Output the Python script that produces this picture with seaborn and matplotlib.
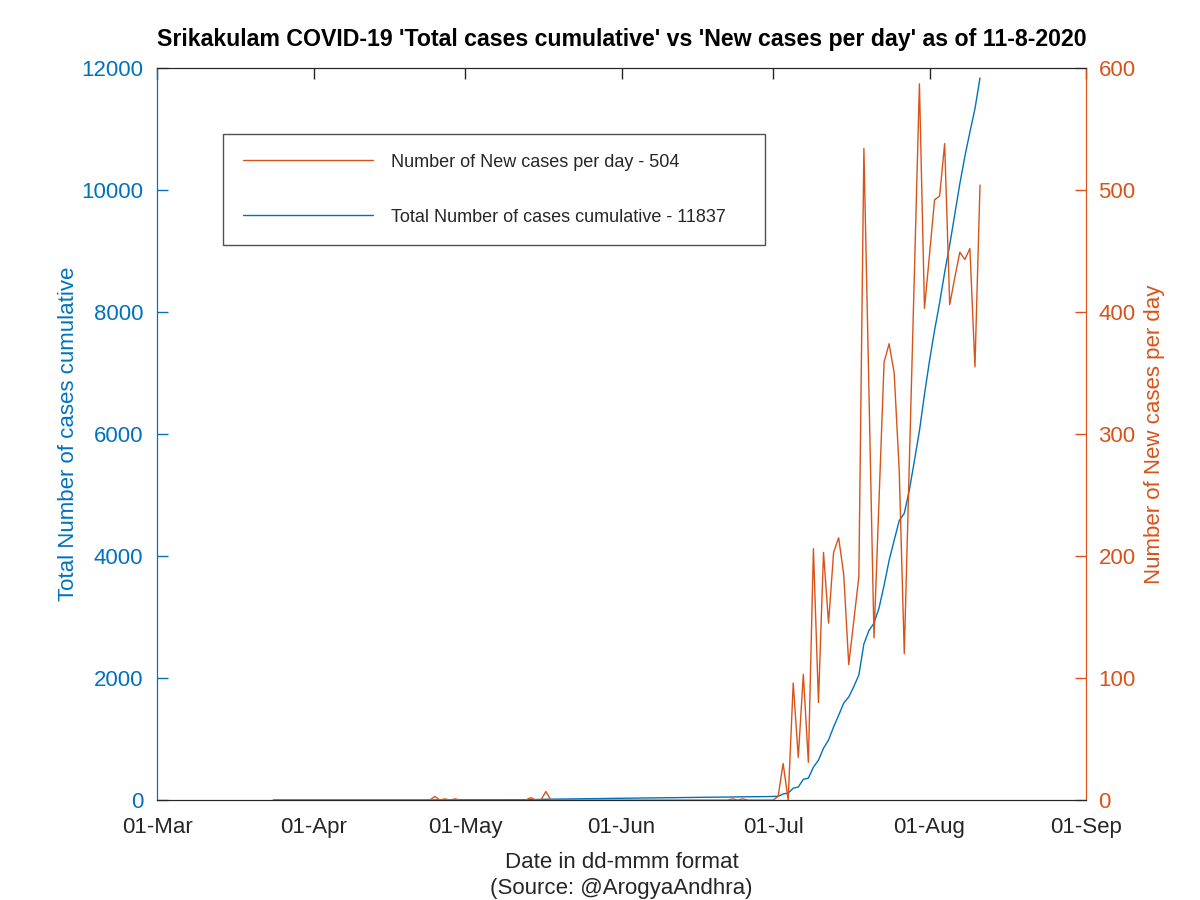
# Srikakulam COVID-19: cumulative total vs new cases per day (as of 11-8-2020)
import pandas as pd
import seaborn as sns
import matplotlib.pyplot as plt
import matplotlib.dates as mdates

# new cases per day (right axis)
new_dates = ['2020-03-24', '2020-04-24', '2020-04-25', '2020-04-26', '2020-04-27', '2020-04-28',
             '2020-04-29', '2020-04-30', '2020-05-13', '2020-05-14', '2020-05-15', '2020-05-16',
             '2020-05-17', '2020-05-18', '2020-06-22', '2020-06-23', '2020-06-24', '2020-06-25',
             '2020-06-26', '2020-07-01', '2020-07-02', '2020-07-03', '2020-07-04', '2020-07-05',
             '2020-07-06', '2020-07-07', '2020-07-08', '2020-07-09', '2020-07-10', '2020-07-11',
             '2020-07-12', '2020-07-13', '2020-07-14', '2020-07-15', '2020-07-16', '2020-07-17',
             '2020-07-18', '2020-07-19', '2020-07-20', '2020-07-21', '2020-07-22', '2020-07-23',
             '2020-07-24', '2020-07-25', '2020-07-26', '2020-07-27', '2020-07-28', '2020-07-29',
             '2020-07-30', '2020-07-31', '2020-08-01', '2020-08-02', '2020-08-03', '2020-08-04',
             '2020-08-05', '2020-08-06', '2020-08-07', '2020-08-08', '2020-08-09', '2020-08-10',
             '2020-08-11']
new_cases = [0, 0, 3, 0, 1, 0,
             1, 0, 0, 2, 0, 0,
             7, 0, 0, 1, 0, 1,
             0, 0, 3, 30, 0, 96,
             35, 103, 31, 206, 80, 203,
             145, 203, 215, 185, 111, 147,
             183, 534, 335, 133, 246, 359,
             374, 350, 270, 120, 276, 431,
             587, 403, 447, 492, 495, 538,
             406, 428, 449, 443, 452, 355,
             504]

# cumulative total (left axis)
total_dates = ['2020-03-24', '2020-04-24', '2020-04-25', '2020-04-27', '2020-04-29', '2020-05-14',
               '2020-05-17', '2020-06-01', '2020-06-30', '2020-07-01', '2020-07-02', '2020-07-03',
               '2020-07-04', '2020-07-05', '2020-07-06', '2020-07-07', '2020-07-08', '2020-07-09',
               '2020-07-10', '2020-07-11', '2020-07-12', '2020-07-13', '2020-07-14', '2020-07-15',
               '2020-07-16', '2020-07-17', '2020-07-18', '2020-07-19', '2020-07-20', '2020-07-21',
               '2020-07-22', '2020-07-23', '2020-07-24', '2020-07-25', '2020-07-26', '2020-07-27',
               '2020-07-28', '2020-07-29', '2020-07-30', '2020-07-31', '2020-08-01', '2020-08-02',
               '2020-08-03', '2020-08-04', '2020-08-05', '2020-08-06', '2020-08-07', '2020-08-08',
               '2020-08-09', '2020-08-10', '2020-08-11']
total_cases = [0, 0, 3, 4, 5, 7,
               14, 30, 58, 60, 62, 100,
               115, 195, 215, 340, 360, 540,
               655, 850, 985, 1200, 1390, 1590,
               1690, 1860, 2050, 2560, 2780, 2900,
               3150, 3520, 3930, 4260, 4580, 4700,
               5080, 5560, 6050, 6650, 7200, 7700,
               8150, 8650, 9100, 9600, 10100, 10550,
               10950, 11330, 11837]

blue = '#0072BD'
orange = '#D95319'

df_new = pd.DataFrame({'date': pd.to_datetime(new_dates), 'new': new_cases})
df_tot = pd.DataFrame({'date': pd.to_datetime(total_dates), 'total': total_cases})

sns.set_style('white')
plt.rcParams['font.family'] = ['Liberation Sans', 'DejaVu Sans']

fig = plt.figure(figsize=(12, 9), dpi=100)
ax = fig.add_axes([0.131, 0.111, 0.774, 0.8135])
ax2 = ax.twinx()

sns.lineplot(x='date', y='total', data=df_tot, ax=ax, color=blue, lw=1.0,
             label='Total Number of cases cumulative - 11837', legend=False)
sns.lineplot(x='date', y='new', data=df_new, ax=ax2, color=orange, lw=1.0,
             label='Number of New cases per day - 504', legend=False)

ax.set_xlim(pd.Timestamp('2020-03-01'), pd.Timestamp('2020-09-01'))
ax.set_ylim(0, 12000)
ax2.set_ylim(0, 600)
ax.set_yticks(range(0, 12001, 2000))
ax2.set_yticks(range(0, 601, 100))
ax.xaxis.set_major_locator(mdates.MonthLocator())
ax.xaxis.set_major_formatter(mdates.DateFormatter('%d-%b'))

ax.tick_params(axis='x', direction='in', top=True, length=8, width=1, labelsize=16,
               colors='#262626', pad=12)
ax.tick_params(axis='y', direction='in', length=8, width=1, labelsize=16,
               colors=blue, pad=10)
ax2.tick_params(axis='y', direction='in', length=8, width=1, labelsize=16,
                colors=orange, pad=9)

for a in (ax, ax2):
    a.spines['top'].set_color('#262626')
    a.spines['bottom'].set_color('#262626')
    a.spines['left'].set_color(blue)
    a.spines['right'].set_color(orange)

ax.set_xlabel('Date in dd-mmm format\n(Source: @ArogyaAndhra)', fontsize=16, color='#262626',
              labelpad=10, linespacing=1.35)
ax.set_ylabel('Total Number of cases cumulative', fontsize=16, color=blue, labelpad=2)
ax2.set_ylabel('Number of New cases per day', fontsize=16, color=orange, labelpad=6)
ax.set_title("Srikakulam COVID-19 'Total cases cumulative' vs 'New cases per day' as of 11-8-2020",
             fontsize=16.7, fontweight='bold', pad=16, color='black')

h1, l1 = ax.get_legend_handles_labels()
h2, l2 = ax2.get_legend_handles_labels()
leg = ax2.legend(h2 + h1, l2 + l1, loc='upper left', bbox_to_anchor=(0.071, 0.0, 0.5834, 0.91),
                 mode='expand', fontsize=13, frameon=True, fancybox=False, edgecolor='#262626',
                 handlelength=7.2, handletextpad=1.0, labelspacing=2.1,
                 borderpad=1.1, borderaxespad=0)
leg.get_frame().set_linewidth(1.0)

fig.savefig('out.png', dpi=100)
